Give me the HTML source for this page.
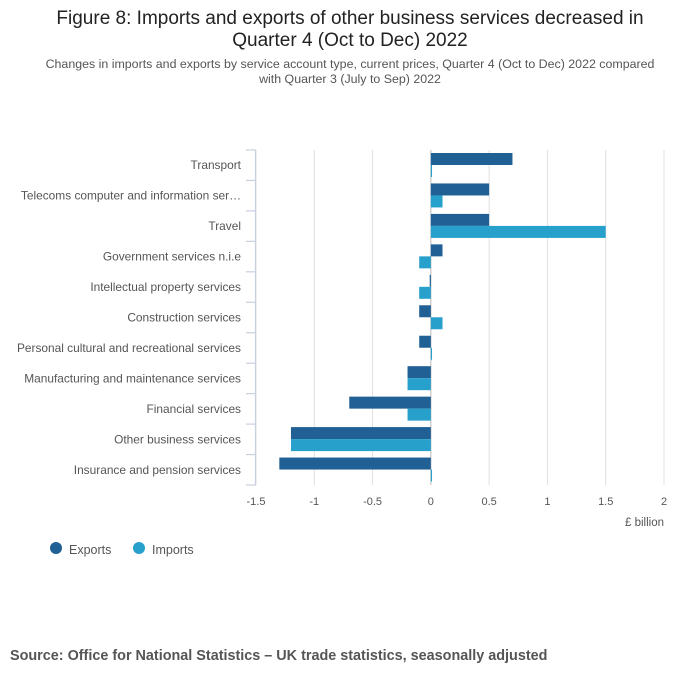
<!DOCTYPE html>
<html><head><meta charset="utf-8"><style>
body{margin:0;background:#fff;font-family:"Liberation Sans",sans-serif;}
#wrap{position:relative;width:700px;height:682px;overflow:hidden}
</style></head><body>
<div id="wrap">
<svg id="svg" width="700" height="682" xmlns="http://www.w3.org/2000/svg">
<text x="350" y="24" text-anchor="middle" font-size="19" fill="#222">Figure 8: Imports and exports of other business services decreased in</text>
<text x="350" y="46" text-anchor="middle" font-size="19" fill="#222">Quarter 4 (Oct to Dec) 2022</text>
<text x="350" y="68" text-anchor="middle" font-size="12.4" fill="#555">Changes in imports and exports by service account type, current prices, Quarter 4 (Oct to Dec) 2022 compared</text>
<text x="350" y="83" text-anchor="middle" font-size="12.4" fill="#555">with Quarter 3 (July to Sep) 2022</text>
<g id="grid"></g><g id="bars"></g><g id="yaxis"></g><g id="xaxis"></g>
<text x="664" y="526" text-anchor="end" font-size="11.5" fill="#555">£ billion</text>
<g><circle cx="56" cy="548" r="6" fill="#206095"/><text x="69" y="554" font-size="12.5" fill="#555">Exports</text></g>
<g><circle cx="139" cy="548" r="6" fill="#27a0cc"/><text x="152" y="554" font-size="12.5" fill="#555">Imports</text></g>
<text x="10" y="660" font-size="14.4" font-weight="bold" fill="#555">Source:  Office for National Statistics – UK trade statistics, seasonally adjusted</text>
</svg></div>
<script>
const categories=["Transport","Telecoms computer and information ser…","Travel","Government services n.i.e","Intellectual property services","Construction services","Personal cultural and recreational services","Manufacturing and maintenance services","Financial services","Other business services","Insurance and pension services"];
const exportsVals=[0.7,0.5,0.5,0.1,-0.01,-0.1,-0.1,-0.2,-0.7,-1.2,-1.3];
const importsVals=[0.01,0.1,1.5,-0.1,-0.1,0.1,0.01,-0.2,-0.2,-1.2,0.01];
const xTicks=[-1.5,-1,-0.5,0,0.5,1,1.5,2];
const NS="http://www.w3.org/2000/svg";
const x0=256,x1=664,yTop=150,yBot=485,xmin=-1.5,xmax=2;
function xs(v){return x0+(v-xmin)/(xmax-xmin)*(x1-x0);}
const band=(yBot-yTop)/categories.length;
function ys(i){return yTop+i*band;}
function mk(tag,attrs,parent){const e=document.createElementNS(NS,tag);for(const k in attrs)e.setAttribute(k,attrs[k]);document.getElementById(parent).appendChild(e);return e;}
xTicks.forEach((t,i)=>{
  const g=mk("line",{x1:xs(t),x2:xs(t),y1:yTop,y2:yBot,stroke:t===0?"#bbb":"#e0e0e0","stroke-width":1},"grid");
  
  
  const l=mk("text",{x:xs(t),y:yBot+20,"text-anchor":"middle","font-size":11,fill:"#555"},"xaxis");
  l.textContent=String(t);
  
  
});
const ax=mk("line",{x1:x0-0.5,x2:x0-0.5,y1:yTop,y2:yBot,stroke:"#c8d0e0","stroke-width":1.2},"yaxis");


for(let i=0;i<=categories.length;i++){
  const tk=mk("line",{x1:x0-10,x2:x0,y1:ys(i),y2:ys(i),stroke:"#c8d0e0","stroke-width":1.2},"yaxis");
  
  
}
categories.forEach((c,i)=>{
  const l=mk("text",{x:241,y:ys(i)+band/2+4,"text-anchor":"end","font-size":11.9,fill:"#555"},"yaxis");
  l.textContent=c;
  
  
  const e=exportsVals[i],m=importsVals[i];
  const r1=mk("rect",{x:Math.min(xs(0),xs(e)),y:ys(i)+3,width:Math.max(1,Math.abs(xs(e)-xs(0))),height:12,fill:"#206095"},"bars");
  
  
  const r2=mk("rect",{x:Math.min(xs(0),xs(m)),y:ys(i)+15,width:Math.max(1,Math.abs(xs(m)-xs(0))),height:12,fill:"#27a0cc"},"bars");
  
  
});
</script>
</body></html>
